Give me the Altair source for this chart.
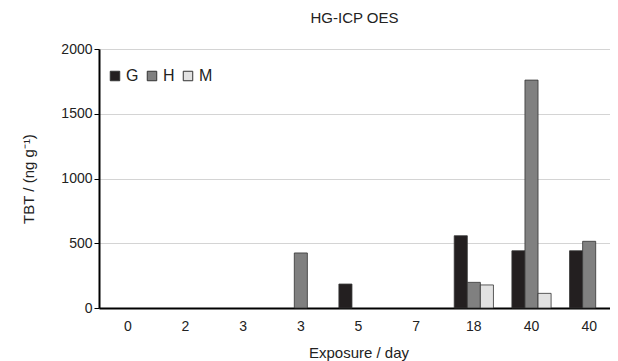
import altair as alt
import pandas as pd
import json

labels = ["0", "2", "3", "3", "5", "7", "18", "40", "40"]
series = ["G", "H", "M"]
G = [0, 0, 0, 0, 185, 0, 558, 442, 442]
H = [0, 0, 0, 425, 0, 0, 198, 1760, 515]
M = [0, 0, 0, 0, 0, 0, 178, 113, 0]
colors = ["#231f20", "#808080", "#e2e2e2"]

rows = []
for name, vals in zip(series, [G, H, M]):
    for i, v in enumerate(vals):
        rows.append({"pos": i, "series": name, "value": v})
df = pd.DataFrame(rows)

label_expr = json.dumps(labels) + "[datum.value]"
FONT = "Liberation Sans"

chart = alt.Chart(df).transform_filter("datum.value > 0").mark_bar(
    stroke="#333333", strokeWidth=0.8
).encode(
    x=alt.X("pos:O", title="Exposure / day",
            scale=alt.Scale(domain=list(range(len(labels))), paddingInner=0.32,
                            paddingOuter=0.16, range=[0, 519]),
            axis=alt.Axis(labelExpr=label_expr, labelAngle=0, ticks=False, grid=False,
                          domainColor="#000000", domainWidth=2, labelPadding=11,
                          labelFontSize=14, titleFontSize=15, titlePadding=12,
                          titleFontWeight="normal",
                          labelColor="#222", titleColor="#222")),
    xOffset=alt.XOffset("series:N", scale=alt.Scale(domain=series, paddingInner=0)),
    y=alt.Y("value:Q", title="TBT /  (ng g⁻¹)",
            scale=alt.Scale(domain=[0, 2000]),
            axis=alt.Axis(values=[0, 500, 1000, 1500, 2000], format="d", grid=True,
                          gridColor="#d4d4d4",
                          domainColor="#000000", domainWidth=2, tickColor="#000000",
                          tickSize=5, labelFontSize=14, titleFontSize=15, titlePadding=24,
                          titleFontWeight="normal",
                          labelColor="#222", titleColor="#222")),
    color=alt.Color("series:N", scale=alt.Scale(domain=series, range=colors),
                    legend=alt.Legend(title=None, orient="none", legendX=8, legendY=19,
                                      direction="horizontal", symbolType="square",
                                      symbolSize=90, symbolStrokeColor="#333333",
                                      symbolStrokeWidth=1, labelFontSize=16,
                                      labelColor="#222", columnPadding=5, labelOffset=3)),
).properties(
    width=511, height=259,
    title=alt.TitleParams("HG-ICP OES", fontSize=15, fontWeight="normal", color="#222",
                          anchor="middle", offset=16),
    autosize=alt.AutoSizeParams(type="none"),
    padding={"left": 91, "top": 41, "right": 0, "bottom": 55},
).configure_view(stroke=None).configure(font=FONT)

chart.save("out.html", embed_options={"renderer": "svg", "actions": False})
